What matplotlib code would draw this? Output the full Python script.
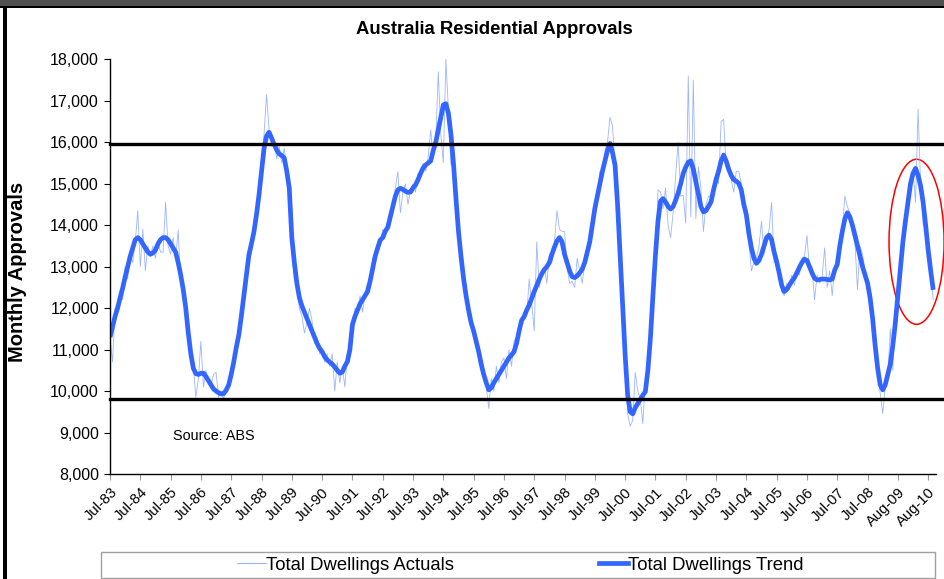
import matplotlib
matplotlib.use("Agg")
import matplotlib.pyplot as plt
from matplotlib.patches import Ellipse, Rectangle
from matplotlib.lines import Line2D
from matplotlib.ticker import FuncFormatter
import matplotlib.transforms as mtransforms

plt.rcParams['font.family'] = ['Liberation Sans', 'DejaVu Sans']

# months since Jul-83, one row per year (Jul..Jun)
actuals = [
    11300, 10700, 12000, 11900, 12400, 12200, 13000, 12700, 13300, 13100, 13600, 14350,
    13000, 13900, 12900, 13500, 13250, 13500, 13200, 13600, 13350, 13350, 14550, 13500,
    13300, 13700, 13200, 13880, 12600, 12300, 11800, 11300, 10800, 10600, 9850, 10300,
    11200, 10100, 10500, 10250, 10150, 10400, 10450, 9850, 10000, 9800, 10100, 10200,
    10500, 10600, 11100, 11400, 11700, 12400, 12700, 13400, 13300, 14000, 14400, 14600,
    15600, 16200, 17150, 16300, 15900, 16050, 15600, 15900, 15500, 15850, 15400, 15000,
    13500, 12700, 12500, 12000, 11800, 11400, 11650, 12000, 11700, 11150, 11300, 10900,
    10900, 10700, 10900, 10600, 10900, 10000, 10700, 10200, 10600, 10100, 10900, 11100,
    11500, 12000, 11900, 12300, 11900, 12350, 12600, 12500, 13200, 13100, 13600, 13500,
    13900, 13700, 14100, 14000, 14500, 14900, 15290, 14300, 14800, 15000, 14500, 14850,
    15000, 14800, 15250, 15200, 15500, 15300, 15650, 16300, 15600, 16000, 17700, 16200,
    15500, 18000, 16800, 15450, 15600, 14700, 13800, 13300, 12700, 12400, 11900, 11700,
    11600, 11100, 11000, 10500, 10500, 10100, 9580, 10300, 10000, 10600, 10200, 10700,
    10800, 10300, 11000, 10600, 11200, 11300, 11300, 11700, 11900, 11800, 12700, 12100,
    11450, 13600, 12500, 12800, 13000, 12600, 13300, 13100, 13600, 14350, 13900, 13850,
    13850, 13000, 12600, 12650, 12500, 13200, 12900, 12600, 13100, 13500, 13700, 14200,
    14500, 14600, 15300, 15100, 15800, 16000, 16600, 16400, 15400, 14500, 13300, 12000,
    10800, 9450, 9150, 9300, 10450, 10000, 9800, 9220, 10200, 10300, 11000, 12100,
    13000, 14850, 14800, 14400, 14900, 14000, 13700, 14300, 15200, 16000, 14700, 14720,
    14050, 17600, 14200, 17500, 14150, 15400, 14900, 13850, 14500, 14700, 14700, 14900,
    15200, 15000, 16500, 16550, 15400, 15300, 15100, 14800, 15300, 15300, 15000, 14400,
    14000, 13600, 12900, 13100, 13200, 13500, 14100, 13300, 13600, 13900, 14550, 13100,
    13300, 12700, 12400, 12300, 12600, 12450, 12800, 12550, 12900, 12800, 13200, 13250,
    13750, 12900, 13000, 12200, 12800, 12600, 12750, 13450, 12500, 12900, 12300, 13000,
    13100, 13300, 13900, 14700, 14450, 14300, 13800, 13600, 12440, 13500, 13300, 12900,
    12700, 12100, 11600, 11000, 10400, 9950, 9460, 10100, 10300, 11500, 10500, 12000,
    12200, 13000, 13500, 14200, 14500, 15100, 15300, 14550, 16800, 15000, 14000, 13900,
    13500, 12800, 12200,
]

trend = [
    11300, 11550, 11800, 12000, 12250, 12480, 12750, 13000, 13250, 13450, 13650, 13700,
    13650, 13550, 13450, 13350, 13300, 13330, 13400, 13550, 13650, 13700, 13700, 13650,
    13550, 13450, 13350, 13100, 12800, 12450, 12000, 11400, 10900, 10550, 10420, 10400,
    10430, 10430, 10350, 10250, 10150, 10050, 10000, 9960, 9930, 9940, 10020, 10150,
    10400, 10700, 11050, 11350, 11800, 12300, 12800, 13280, 13550, 13840, 14250, 14730,
    15300, 15850, 16150, 16240, 16100, 15950, 15813, 15720, 15680, 15620, 15300, 14890,
    13700, 13100, 12600, 12250, 12050, 11900, 11750, 11600, 11450, 11300, 11150, 11030,
    10950, 10830, 10750, 10700, 10650, 10580, 10500, 10430, 10460, 10600, 10710, 11000,
    11600, 11800, 11950, 12100, 12200, 12300, 12400, 12650, 12950, 13250, 13450, 13640,
    13700, 13850, 13950, 14200, 14450, 14700, 14850, 14890, 14860, 14820, 14790, 14800,
    14900, 14970, 15100, 15250, 15380, 15450, 15500, 15550, 15800, 16000, 16300, 16600,
    16900, 16930, 16700, 16200, 15500, 14650, 13850, 13250, 12720, 12300, 11950, 11650,
    11450, 11200, 10950, 10650, 10400, 10200, 10030, 10080, 10200, 10300, 10400, 10500,
    10600, 10700, 10800, 10870, 10950, 11150, 11450, 11700, 11800, 11950, 12075, 12240,
    12400, 12550, 12700, 12830, 12930, 13000, 13100, 13300, 13470, 13620, 13700, 13600,
    13300, 13100, 12900, 12760, 12735, 12780, 12850, 12940, 13100, 13350, 13600, 14000,
    14400, 14700, 15000, 15300, 15550, 15800, 15970, 15750, 15450, 14500, 13280, 12050,
    10870, 9900, 9500, 9450, 9600, 9700, 9800, 9900, 9985, 10500, 11270, 12300,
    13280, 14100, 14580, 14640, 14560, 14450, 14390, 14450, 14600, 14780, 15000, 15250,
    15400, 15520, 15550, 15350, 15050, 14750, 14450, 14320, 14350, 14450, 14560, 14850,
    15100, 15300, 15550, 15690, 15550, 15350, 15200, 15100, 15060, 15010, 14850, 14500,
    14250, 13800, 13450, 13200, 13080, 13150, 13300, 13500, 13700, 13760, 13650, 13350,
    13120, 12850, 12550, 12400, 12450, 12550, 12650, 12730, 12850, 12980, 13100, 13180,
    13150, 13000, 12850, 12720, 12680, 12690, 12700, 12700, 12690, 12680, 12700, 12920,
    13050, 13500, 13850, 14150, 14300, 14200, 14000, 13760, 13500, 13250, 13000, 12800,
    12600, 12250, 11750, 11100, 10550, 10150, 10030, 10150, 10400, 10650, 11100, 11650,
    12300, 12950, 13600, 14100, 14550, 15000, 15250, 15370, 15200, 14950, 14550, 14000,
    13400, 12900, 12440,
]

tick_labels = ['Jul-%02d' % (y % 100) for y in range(83, 109)] + ['Aug-09', 'Aug-10']
band_high = 15950
band_low = 9800

months = list(range(len(trend)))

fig = plt.figure(figsize=(9.45, 5.79), dpi=100)
ax = fig.add_axes([110 / 945, 1 - 474 / 579, 826 / 945, 414.7 / 579])

ax.plot(months, actuals, color='#9db5ff', lw=0.6, label='Total Dwellings Actuals')
ax.plot(months, trend, color='#3366ff', lw=3.4, solid_capstyle='butt', label='Total Dwellings Trend')

# reference lines run past the plot to the chart edge
blend = mtransforms.blended_transform_factory(ax.transAxes, ax.transData)
for yv in (band_high, band_low):
    ax.plot([0, 1.02], [yv, yv], color='black', lw=2.4, transform=blend, clip_on=False)

ax.add_patch(Ellipse((319.4, 13600), 21.8, 3980, fill=False, edgecolor='red', lw=1.1, clip_on=False))

ax.text(24.8, 8920, 'Source: ABS', fontsize=10.4, va='center', ha='left')

ax.set_xlim(0, 327.1)
ax.set_ylim(8000, 18000)
ax.set_yticks(range(8000, 18001, 1000))
ax.yaxis.set_major_formatter(FuncFormatter(lambda v, p: '{:,.0f}'.format(v)))
ax.set_xticks(range(0, 12 * len(tick_labels), 12))
ax.set_xticklabels(tick_labels, rotation=45, ha='right', rotation_mode='anchor')
ax.tick_params(axis='y', length=4, width=0.8, labelsize=11.5, pad=4)
ax.tick_params(axis='x', length=4, width=0.8, color='#999999', labelsize=10.6, pad=4)
for s in ('top', 'right'):
    ax.spines[s].set_visible(False)
for s in ('left', 'bottom'):
    ax.spines[s].set_linewidth(1.0)

fig.text(494 / 945, 1 - 30 / 579, 'Australia Residential Approvals', ha='center', va='center',
         fontsize=13.3, fontweight='bold')
fig.text(18 / 945, 1 - 272 / 579, 'Monthly Approvals', ha='center', va='center', rotation=90,
         fontsize=14.5, fontweight='bold')

# legend box across the bottom
fig.patches.append(Rectangle((101 / 945, 1 - 578 / 579), 834 / 945, 26 / 579, transform=fig.transFigure,
                             fill=False, edgecolor='#a0a0a0', lw=1.0))
handles = [Line2D([], [], color='#9db5ff', lw=0.8), Line2D([], [], color='#3366ff', lw=3.4)]
fig.legend(handles, ['Total Dwellings Actuals', 'Total Dwellings Trend'], loc='center',
           bbox_to_anchor=(520 / 945, 1 - 565 / 579), ncol=2, frameon=False, fontsize=13.3,
           handlelength=1.58, handletextpad=0.0, columnspacing=7.85, borderpad=0.1)

# chart frame: dark band on top, black rule on the left
fig.patches.append(Rectangle((0, 1 - 6 / 579), 1, 6 / 579, transform=fig.transFigure,
                             facecolor='#505050', edgecolor='none'))
fig.patches.append(Rectangle((0, 1 - 8 / 579), 1, 2 / 579, transform=fig.transFigure,
                             facecolor='black', edgecolor='none'))
fig.patches.append(Rectangle((3 / 945, 0), 4 / 945, 1 - 6 / 579, transform=fig.transFigure,
                             facecolor='black', edgecolor='none'))

fig.savefig('out.png', dpi=100)
